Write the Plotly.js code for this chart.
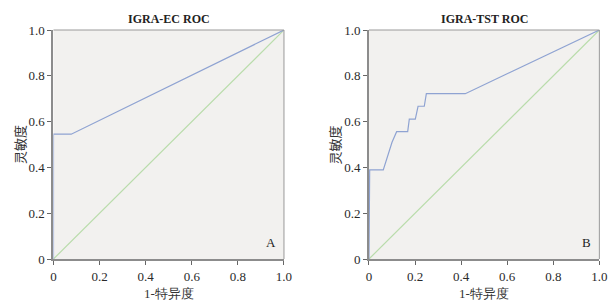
<!DOCTYPE html>
<html><head><meta charset="utf-8">
<script src="https://cdn.plot.ly/plotly-3.0.1.min.js"></script>
<style>html,body{margin:0;padding:0;background:#fff}#c{width:616px;height:305px}</style>
</head><body><div id="c"></div>
<script>
const ecFpr = [0, 0, 0.077, 1];
const ecTpr = [0, 0.545, 0.545, 1];
const tstFpr = [0, 0, 0.003, 0.062, 0.086, 0.100, 0.120, 0.168, 0.175, 0.201, 0.213, 0.240, 0.249, 0.418, 1];
const tstTpr = [0, 0.278, 0.389, 0.389, 0.470, 0.510, 0.556, 0.556, 0.611, 0.611, 0.667, 0.667, 0.722, 0.722, 1];
const refLine = [0, 1];
const tickVals = [0, 0.2, 0.4, 0.6, 0.8, 1.0];
const tickText = ['0', '0.2', '0.4', '0.6', '0.8', '1.0'];
const titles = ['IGRA-EC ROC', 'IGRA-TST ROC'];
const panelLabels = ['A', 'B'];
const xTitle = '1-特异度';
const yTitle = '灵敏度';

const blue = '#8fa3d2', green = '#b9dcab';
const traces = [
  {x: refLine, y: refLine, xaxis:'x', yaxis:'y', mode:'lines', line:{color:green, width:1.2}},
  {x: ecFpr, y: ecTpr, xaxis:'x', yaxis:'y', mode:'lines', line:{color:blue, width:1.2}},
  {x: refLine, y: refLine, xaxis:'x2', yaxis:'y2', mode:'lines', line:{color:green, width:1.2}},
  {x: tstFpr, y: tstTpr, xaxis:'x2', yaxis:'y2', mode:'lines', line:{color:blue, width:1.2}}
];
const serif = '"Liberation Serif", "Times New Roman", Times, serif';
const cjk = '"Noto Sans CJK SC", sans-serif';
function ax(domain, anchor) {
  return {domain: domain, anchor: anchor, range:[0,1], tickvals: tickVals, ticktext: tickText,
    ticks:'outside', ticklen:4, tickwidth:1, tickcolor:'#666', showgrid:false, zeroline:false,
    showline:true, linecolor:'#8c8c8c', linewidth:2, tickfont:{family:serif, size:13, color:'#2a2a2a'},
    fixedrange:true};
}
const yd = [0.1508, 0.9016];
const layout = {
  width:616, height:305, margin:{l:0,r:0,t:0,b:0}, paper_bgcolor:'#ffffff', plot_bgcolor:'#f2f1ef',
  showlegend:false,
  xaxis: ax([0.0868, 0.4610], 'y'),
  yaxis: ax(yd, 'x'),
  xaxis2: ax([0.5990, 0.9730], 'y2'),
  yaxis2: ax(yd, 'x2'),
  shapes: [], annotations: []
};
const xs = ['x', 'x2'], ys = ['y', 'y2'];
for (let i = 0; i < 2; i++) {
  const xr = xs[i] + ' domain', yr = ys[i] + ' domain';
  layout.shapes.push({type:'line', xref:xr, yref:yr, x0:1, x1:1, y0:0, y1:1, line:{color:'#9a9a9a', width:1}});
  layout.shapes.push({type:'line', xref:xr, yref:yr, x0:0, x1:1, y0:1, y1:1, line:{color:'#9a9a9a', width:1}});
  layout.annotations.push({text: titles[i], xref:xr, yref:yr, x:0.5, y:1, yshift:2, xanchor:'center', yanchor:'bottom', showarrow:false,
    font:{family:serif, size:12, color:'#222', weight:'bold'}});
  layout.annotations.push({text: panelLabels[i], xref:xr, yref:yr, x:0.945, y:0.07, xanchor:'center', yanchor:'middle', showarrow:false,
    font:{family:serif, size:13, color:'#222'}});
  layout.annotations.push({text: xTitle, xref:xr, yref:yr, x:0.5, y:0, yshift:-25, xanchor:'center', yanchor:'top', showarrow:false,
    font:{family:serif, size:13, color:'#333'}});
  layout.annotations.push({text: yTitle, xref:xr, yref:yr, x:0, y:0.5, xshift:-34, xanchor:'center', yanchor:'middle', textangle:-90, showarrow:false,
    font:{family:cjk, size:13, color:'#333'}});
}
Plotly.newPlot('c', traces, layout, {staticPlot:true});
</script></body></html>
